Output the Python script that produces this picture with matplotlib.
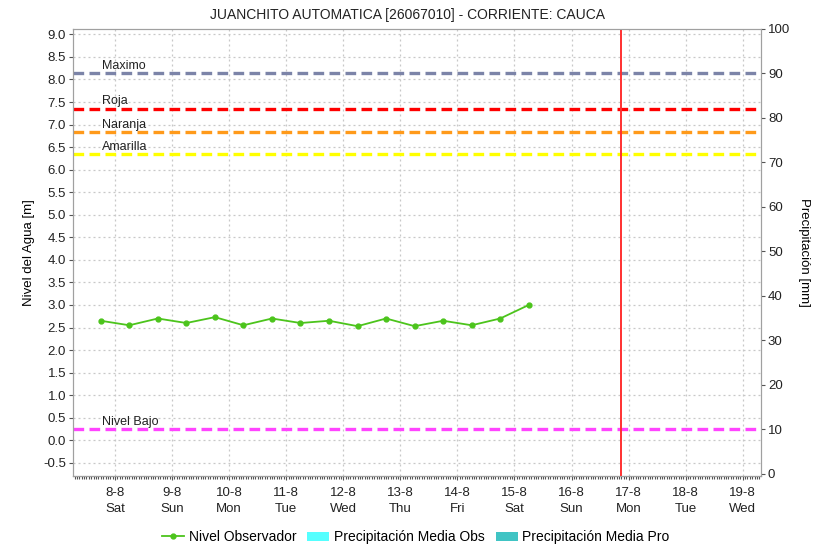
import datetime as dt
import matplotlib
matplotlib.use("Agg")
import matplotlib.pyplot as plt
import matplotlib.dates as mdates
import matplotlib.transforms as mtransforms
from matplotlib.lines import Line2D
from matplotlib.patches import Patch

plt.rcParams["font.family"] = ["Liberation Sans", "DejaVu Sans"]
plt.rcParams["font.size"] = 9

# --- data ---
obs_times = [dt.datetime(2015, 8, 7, 18) + dt.timedelta(hours=12 * i) for i in range(16)]
obs_level = [2.65, 2.55, 2.70, 2.60, 2.73, 2.55, 2.70, 2.60,
             2.65, 2.53, 2.70, 2.53, 2.65, 2.55, 2.70, 3.00]

thr_names = ["Maximo", "Roja", "Naranja", "Amarilla", "Nivel Bajo"]
thr_values = [8.14, 7.35, 6.83, 6.35, 0.25]
thr_colors = ["#7c84a8", "#ff0000", "#ff9a1a", "#ffff00", "#ff44ff"]

tick_days = [dt.datetime(2015, 8, d) for d in range(8, 20)]
tick_labels = ["8-8\nSat", "9-8\nSun", "10-8\nMon", "11-8\nTue", "12-8\nWed", "13-8\nThu",
               "14-8\nFri", "15-8\nSat", "16-8\nSun", "17-8\nMon", "18-8\nTue", "19-8\nWed"]
now_time = dt.datetime(2015, 8, 16, 21)

title = "JUANCHITO AUTOMATICA [26067010] - CORRIENTE: CAUCA"

# --- figure ---
fig = plt.figure(figsize=(8.15, 5.47), dpi=100)
ax = fig.add_axes([0.0896, 0.130, 0.8441, 0.817])
ax2 = ax.twinx()

spine_col = "#a0a0a0"
for a in (ax, ax2):
    for s in a.spines.values():
        s.set_color(spine_col)
ax.spines["bottom"].set_color("#555555")

# grid
ax.grid(True, which="major", color="#c8c8c8", linestyle=(0, (1.6, 2.4)), linewidth=0.9)
ax.set_axisbelow(True)

# thresholds
trans = mtransforms.blended_transform_factory(ax.transAxes, ax.transData)
for name, val, col in zip(thr_names, thr_values, thr_colors):
    ax.axhline(val, color=col, linestyle=(0, (3.2, 1.6)), linewidth=2.4, zorder=2)
    ax.text(0.042, val + 0.03, name, transform=trans, ha="left", va="bottom",
            fontsize=9, color="#222222", zorder=3)

# observed level
ax.plot(obs_times, obs_level, color="#4cc41c", linewidth=1.3, marker="o",
        markersize=3.5, zorder=4)

# current time marker
ax.axvline(now_time, color="#ff3030", linewidth=1.4, zorder=3)

# axes limits / ticks
ax.set_xlim(dt.datetime(2015, 8, 7, 6, 20), dt.datetime(2015, 8, 19, 7, 40))
ax.set_ylim(-0.79, 9.12)
ax.set_yticks([i * 0.5 for i in range(-1, 19)])
ax.yaxis.set_major_formatter(plt.FuncFormatter(lambda v, p: f"{v:.1f}"))
ax.set_xticks(tick_days)
ax.set_xticklabels(tick_labels, linespacing=1.45)
ax.xaxis.set_minor_locator(mdates.HourLocator())
ax.tick_params(axis="x", which="minor", length=2, color="#555555", width=0.8)
ax.tick_params(axis="x", which="major", length=3, color="#555555", pad=5,
               labelsize=9.5, labelcolor="#222222")
ax.tick_params(axis="y", length=3, color="#555555", pad=2, labelsize=9.5,
               labelcolor="#222222")

ax2.set_ylim(-0.45, 100)
ax2.set_yticks(range(0, 101, 10))
ax2.tick_params(axis="y", length=3, color="#555555", pad=2, labelsize=9.5,
                labelcolor="#222222")

ax.set_ylabel("Nivel del Agua [m]", fontsize=9.5, labelpad=6)
ax2.set_ylabel("Precipitación [mm]", fontsize=9.5, rotation=-90, labelpad=14)

fig.suptitle(title, y=0.985, fontsize=10, color="#222222")

# legend
handles = [
    Line2D([0], [0], color="#4cc41c", linewidth=1.3, marker="o", markersize=3.5),
    Patch(facecolor="#55ffff", edgecolor="none"),
    Patch(facecolor="#40c4c4", edgecolor="none"),
]
labels = ["Nivel Observador", "Precipitación Media Obs", "Precipitación Media Pro"]
fig.legend(handles, labels, loc="lower center", bbox_to_anchor=(0.51, -0.018), ncol=3,
           frameon=False, fontsize=10, handlelength=1.6, handletextpad=0.3,
           columnspacing=0.8)

fig.savefig("out.png", dpi=100)
